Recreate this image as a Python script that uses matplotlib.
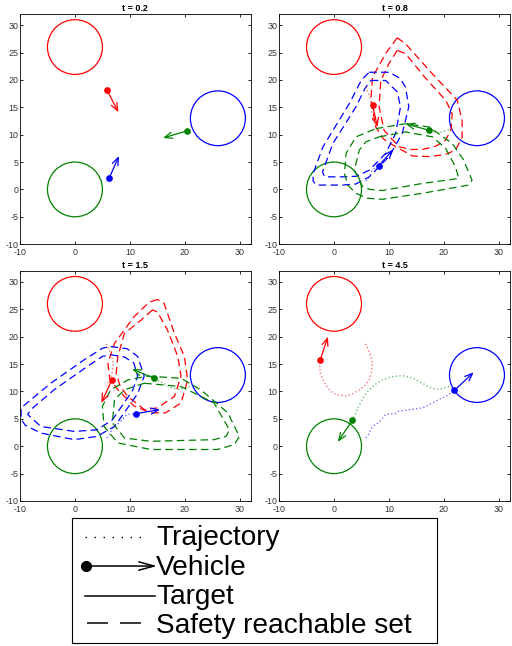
import numpy as np
import matplotlib
matplotlib.use("Agg")
import matplotlib.pyplot as plt
from matplotlib.patches import Circle

plt.rcParams['font.family'] = ['Liberation Sans', 'DejaVu Sans']
plt.rcParams['axes.unicode_minus'] = False

RED, BLUE, GREEN = "#ff0000", "#0000ff", "#008000"

# targets (centre, radius)
targets = [((0, 26), RED), ((26, 13), BLUE), ((0, 0), GREEN)]
target_r = 5

titles = ["t = 0.2", "t = 0.8", "t = 1.5", "t = 4.5"]

# vehicles per panel: (position, arrow tip)
red_veh = [((5.8, 18.2), (7.9, 14.1)), ((7.0, 15.5), (7.9, 11.4)),
           ((6.7, 12.1), (4.8, 7.9)), ((-2.5, 15.8), (-1.1, 20.0))]
blue_veh = [((6.2, 2.0), (8.0, 6.1)), ((8.1, 4.3), (10.8, 7.3)),
            ((11.1, 5.95), (15.5, 6.7)), ((21.9, 10.2), (25.4, 13.5))]
green_veh = [((20.4, 10.7), (16.0, 9.4)), ((17.3, 10.8), (13.0, 12.0)),
             ((14.4, 12.4), (10.4, 14.1)), ((3.3, 4.7), (0.7, 0.8))]

# trajectories
red_traj = [(5.7, 18.7), (6.5, 17.0), (7.0, 15.2), (6.8, 13.5), (6.4, 12.1),
            (5.6, 11.1), (4.6, 10.3), (3.4, 9.6), (2.2, 9.2), (1.0, 9.3),
            (-0.2, 9.7), (-1.2, 10.7), (-2.0, 12.1), (-2.5, 13.4),
            (-2.6, 14.6), (-2.5, 15.8)]
green_traj = [(20.9, 10.9), (19.6, 10.5), (18.5, 10.4), (17.3, 10.8),
              (16.1, 11.5), (14.4, 12.4), (12.4, 12.9), (10.5, 12.7),
              (8.8, 12.1), (7.5, 11.3), (6.4, 10.3), (5.6, 9.4), (5.1, 8.5),
              (4.5, 7.3), (4.0, 6.1), (3.3, 4.7)]
blue_traj = [(5.8, 1.5), (6.2, 2.0), (7.0, 3.6), (8.1, 4.3), (9.4, 5.8),
             (11.1, 5.95), (11.8, 6.4), (14.0, 6.7), (16.1, 7.0),
             (17.9, 7.9), (19.2, 8.6), (20.3, 9.1), (21.9, 10.2)]
# number of trajectory points shown per panel
red_n = [1, 4, 6, 16]
green_n = [1, 4, 6, 16]
blue_n = [2, 4, 6, 13]

# safety reachable sets, t = 0.8
red_out_08 = [(11.5, 27.7), (9.5, 25.0), (7.0, 20.5), (6.7, 16.3), (7.6, 11.4),
              (9.0, 9.2), (11.2, 7.8), (14.3, 6.1), (17.3, 6.0), (20.3, 6.4),
              (22.1, 7.2), (23.3, 9.5), (23.3, 12.6), (22.4, 16.3),
              (18.0, 21.0), (13.0, 26.6), (11.5, 27.7)]
red_in_08 = [(11.5, 25.4), (10.0, 23.0), (8.5, 19.9), (8.2, 15.1), (9.1, 10.8),
             (11.8, 7.8), (14.0, 7.3), (16.1, 7.3), (18.5, 7.9), (20.3, 9.0),
             (21.3, 11.0), (21.5, 13.8), (20.3, 16.3), (16.5, 20.5),
             (13.0, 24.8), (11.5, 25.4)]
blue_out_08 = [(6.4, 21.4), (10.0, 21.4), (12.0, 20.3), (13.0, 18.7),
               (13.6, 15.1), (12.4, 10.2), (10.0, 6.0), (6.4, 2.3), (4.0, 1.0),
               (1.6, 0.8), (-3.2, 0.8), (-3.8, 1.5), (-3.8, 2.9), (-2.0, 7.8),
               (2.8, 15.7), (5.0, 20.0), (6.4, 21.4)]
blue_in_08 = [(6.7, 19.9), (9.4, 19.9), (11.5, 17.8), (12.1, 15.1),
              (11.2, 10.2), (9.4, 6.6), (6.4, 3.5), (4.0, 2.4), (1.6, 2.3),
              (-1.7, 2.3), (-2.1, 3.2), (-0.2, 8.4), (4.0, 15.1), (5.6, 18.4),
              (6.7, 19.9)]
green_out_08 = [(7.6, 11.1), (13.0, 12.0), (17.3, 11.4), (21.5, 8.4),
                (23.5, 5.5), (25.1, 1.7), (24.5, 0.8), (16.1, -0.7),
                (8.8, -1.8), (6.0, -1.6), (4.0, -0.7), (2.5, 0.8), (1.9, 2.9),
                (2.2, 6.6), (4.0, 9.6), (7.6, 11.1)]
green_in_08 = [(8.2, 9.6), (13.0, 10.5), (17.9, 9.6), (20.3, 7.5),
               (22.1, 4.1), (22.7, 2.0), (16.1, 1.1), (8.8, -0.2), (6.5, 0.0),
               (5.2, 0.5), (3.7, 3.5), (4.6, 7.2), (5.8, 8.7), (8.2, 9.6)]

# safety reachable sets, t = 1.5
red_out_15 = [(15.0, 26.8), (13.5, 26.3), (10.8, 23.7), (7.2, 18.8),
              (6.0, 15.2), (6.3, 12.5), (7.8, 10.3), (10.8, 7.3), (13.8, 6.1),
              (16.5, 6.1), (19.3, 7.9), (20.5, 12.1), (19.9, 16.4),
              (18.1, 20.6), (16.2, 26.1), (15.0, 26.8)]
red_in_15 = [(14.1, 24.9), (12.0, 23.0), (9.0, 20.6), (7.8, 16.4), (7.5, 13.4),
             (8.2, 11.0), (9.6, 9.1), (12.6, 6.7), (15.0, 7.0), (18.1, 9.1),
             (19.3, 12.8), (18.7, 16.4), (16.8, 21.3), (15.0, 24.5),
             (14.1, 24.9)]
blue_out_15 = [(6.5, 18.2), (9.5, 17.8), (11.4, 16.4), (12.6, 12.8),
               (11.4, 9.6), (7.2, 3.6), (4.0, 1.8), (-0.1, 1.2), (-6.2, 2.4),
               (-9.0, 3.8), (-9.8, 4.9), (-9.8, 7.0), (-4.4, 11.5),
               (1.7, 15.8), (5.0, 17.9), (6.5, 18.2)]
blue_in_15 = [(6.5, 16.7), (9.0, 16.3), (10.7, 15.2), (11.4, 12.8),
              (10.5, 10.2), (6.8, 4.8), (4.0, 3.0), (-0.1, 2.7), (-6.2, 3.6),
              (-8.6, 5.8), (-8.0, 6.7), (-3.8, 10.3), (2.3, 14.6),
              (5.0, 16.4), (6.5, 16.7)]
green_out_15 = [(13.2, 12.8), (19.3, 12.4), (22.9, 10.3), (27.8, 6.1),
                (29.9, 1.8), (29.0, 0.3), (25.9, -0.6), (13.8, -0.6),
                (7.8, 0.6), (5.3, 3.6), (5.0, 7.3), (6.5, 10.3), (9.6, 12.1),
                (13.2, 12.8)]
green_in_15 = [(12.6, 11.5), (19.3, 10.9), (25.3, 7.9), (28.1, 3.0),
               (27.5, 1.8), (25.3, 1.2), (13.8, 0.9), (9.0, 1.5), (6.8, 4.3),
               (7.2, 8.5), (9.0, 10.3), (12.6, 11.5)]

sets = [[],
        [(red_out_08, RED), (red_in_08, RED), (blue_out_08, BLUE),
         (blue_in_08, BLUE), (green_out_08, GREEN), (green_in_08, GREEN)],
        [(red_out_15, RED), (red_in_15, RED), (blue_out_15, BLUE),
         (blue_in_15, BLUE), (green_out_15, GREEN), (green_in_15, GREEN)],
        []]

fig = plt.figure(figsize=(5.12, 6.46), dpi=100)
boxes = [[0.039, 0.622, 0.451, 0.356], [0.545, 0.622, 0.451, 0.356],
         [0.039, 0.2245, 0.451, 0.356], [0.545, 0.2245, 0.451, 0.356]]

for k, box in enumerate(boxes):
    ax = fig.add_axes(box)
    for (c, col) in targets:
        ax.add_patch(Circle(c, target_r, fill=False, ec=col, lw=0.9))
    for pts, col in sets[k]:
        p = np.array(pts)
        ax.plot(p[:, 0], p[:, 1], color=col, lw=0.9, ls=(0, (6, 3.5)))
    for traj, n, col in [(red_traj, red_n[k], RED), (green_traj, green_n[k], GREEN),
                         (blue_traj, blue_n[k], BLUE)]:
        p = np.array(traj[:n])
        ax.plot(p[:, 0], p[:, 1], color=col, lw=1.0, ls=':', alpha=0.55)
    for veh, col in [(red_veh[k], RED), (blue_veh[k], BLUE), (green_veh[k], GREEN)]:
        (x0, y0), (x1, y1) = veh
        ax.annotate("", xy=(x1, y1), xytext=(x0, y0),
                    arrowprops=dict(arrowstyle="->,head_length=0.55,head_width=0.22",
                                    color=col, lw=0.9, shrinkA=0, shrinkB=0))
        ax.plot(x0, y0, 'o', color=col, ms=3.8)
    ax.set_xlim(-10, 32)
    ax.set_ylim(-10, 32)
    ax.set_xticks([-10, 0, 10, 20, 30])
    ax.set_yticks([-10, -5, 0, 5, 10, 15, 20, 25, 30])
    ax.tick_params(labelsize=6.4, length=2.5, width=0.6, direction='in',
                   top=True, right=True, pad=1.2, labelcolor='#333333')
    ax.tick_params(axis='x', pad=2.8)
    for s in ax.spines.values():
        s.set_linewidth(0.6)
    ax.set_title(titles[k], fontsize=6.5, fontweight='bold', pad=2)

# legend box
lg = fig.add_axes([0.1406, 0.0046, 0.713, 0.1935])
lg.set_xlim(72, 437)
lg.set_ylim(643, 518)
lg.set_xticks([])
lg.set_yticks([])
for s in lg.spines.values():
    s.set_linewidth(0.8)
handle_y = [537, 566, 596, 623]
text_base = [545, 574.5, 604, 633]
labels = ["Trajectory", "Vehicle", "Target", "Safety reachable set"]
lg.plot([85, 148], [handle_y[0], handle_y[0]], color='k', lw=1.0, ls=(0, (1, 5.5)))
lg.annotate("", xy=(157, handle_y[1]), xytext=(86, handle_y[1]),
            arrowprops=dict(arrowstyle="->,head_length=1.1,head_width=0.3",
                            color='k', lw=1.1, shrinkA=0, shrinkB=0))
lg.plot(86, handle_y[1], 'o', color='k', ms=7)
lg.plot([85, 155], [handle_y[2], handle_y[2]], color='k', lw=1.1)
lg.plot([87, 142], [handle_y[3], handle_y[3]], color='k', lw=1.1, ls=(0, (13.7, 7.9)))
for yb, t in zip(text_base, labels):
    lg.text(156, yb, t, fontsize=20.2, va='baseline', ha='left')

fig.savefig("out.png", dpi=100)
